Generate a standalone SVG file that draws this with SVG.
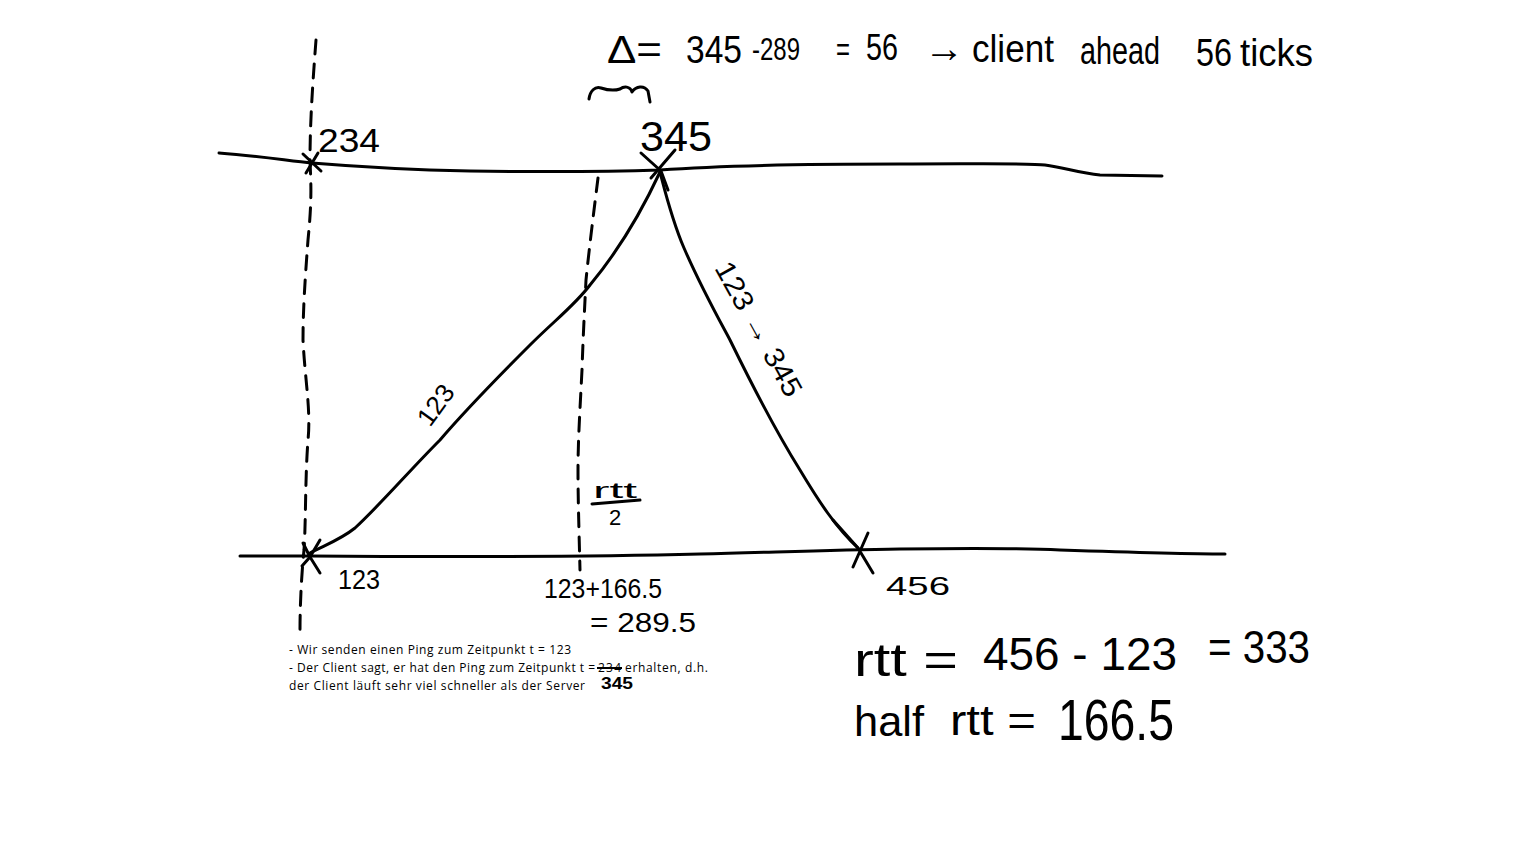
<svg xmlns="http://www.w3.org/2000/svg" width="1536" height="864" viewBox="0 0 1536 864">
<style>
.ln{fill:none;stroke:#000;stroke-width:3;stroke-linecap:round;stroke-linejoin:round}
.dash{stroke-dasharray:14 10}
.hw{font-family:"Liberation Sans","DejaVu Sans",sans-serif;fill:#000}
.ty{font-family:"Open Sans","Liberation Sans",sans-serif;font-size:12px;fill:#000}
</style>
<rect width="1536" height="864" fill="#fff"/>
<g id="server-timeline">
<path class="ln" d="M219,153 C260,156 290,161 312,163 C360,167 420,170 470,171 C540,172 600,172 660,170 C700,167 760,164 900,164 C980,164 1030,163 1045,165 C1065,168 1080,173 1100,175 L1162,176"/>
<text class="hw" x="318" y="152" font-size="34" textLength="62" lengthAdjust="spacingAndGlyphs">234</text>
<text class="hw" x="640" y="151" font-size="42" textLength="72" lengthAdjust="spacingAndGlyphs">345</text>
</g>
<g id="client-timeline">
<path class="ln" d="M240,556 L310,556 C450,557 580,557 700,554 C780,552 830,550 900,549 C980,548 1040,549 1060,550 C1120,552 1180,554 1225,554"/>
<text class="hw" x="338" y="589" font-size="28" textLength="42" lengthAdjust="spacingAndGlyphs">123</text>
<text class="hw" x="886" y="595" font-size="26" textLength="64" lengthAdjust="spacingAndGlyphs">456</text>
</g>
<g id="guides">
<path class="ln dash" d="M316,40 C313,80 310,120 310,160 C311,185 312,200 308,240 C305,280 303,310 303,340 C305,380 311,410 308,440 C305,480 306,520 304,550 C301,580 300,610 300,630"/>
<path class="ln dash" d="M598,178 C594,210 589,250 586,280 C584,320 583,340 582,370 C580,410 578,440 578,470 C578,500 579,530 580,570"/>
</g>
<g id="connectors">
<path class="ln" d="M310,553 C325,545 340,540 355,528 C380,505 410,470 440,440 C470,405 500,375 530,345 C555,320 575,305 590,285 C615,255 640,215 660,172"/>
<path class="ln" d="M660,172 C666,195 672,220 684,248 C700,285 715,312 730,340 C752,385 775,430 800,470 C818,500 836,528 858,548"/>
</g>
<g id="marks">
<path class="ln" d="M303,154 L321,171 M318,153 L306,173"/>
<path class="ln" d="M641,153 L661,171 L668,190 M675,150 L651,178"/>
<path class="ln" d="M303,543 L310,557 L320,573 M320,540 L310,557 L302,566"/>
<path class="ln" d="M833,520 L858,548 L873,573 M868,533 L853,567"/>
</g>
<g id="path-labels">
<text class="hw" transform="translate(430,428) rotate(-54)" font-size="26" textLength="44" lengthAdjust="spacingAndGlyphs">123</text>
<text class="hw" transform="translate(714,268) rotate(61)" font-size="28" textLength="150" lengthAdjust="spacingAndGlyphs">123 → 345</text>
</g>
<g id="half-rtt">
<text class="hw" x="593" y="498" font-size="22" textLength="44" lengthAdjust="spacingAndGlyphs">rtt</text>
<path class="ln" d="M592,504 L640,500"/>
<text class="hw" x="609" y="525" font-size="22">2</text>
<text class="hw" x="544" y="598" font-size="27" textLength="118" lengthAdjust="spacingAndGlyphs">123+166.5</text>
<text class="hw" x="590" y="632" font-size="27" textLength="106" lengthAdjust="spacingAndGlyphs">= 289.5</text>
</g>
<g id="delta">
<text class="hw" x="607" y="63" font-size="38" textLength="55" lengthAdjust="spacingAndGlyphs">Δ=</text>
<text class="hw" x="686" y="63" font-size="38" textLength="56" lengthAdjust="spacingAndGlyphs">345</text>
<text class="hw" x="752" y="60" font-size="32" textLength="48" lengthAdjust="spacingAndGlyphs">-289</text>
<text class="hw" x="836" y="61" font-size="34" textLength="14" lengthAdjust="spacingAndGlyphs">=</text>
<text class="hw" x="866" y="60" font-size="36" textLength="32" lengthAdjust="spacingAndGlyphs">56</text>
<text class="hw" x="924" y="62" font-size="40" textLength="40" lengthAdjust="spacingAndGlyphs">→</text>
<text class="hw" x="972" y="62" font-size="38" textLength="82" lengthAdjust="spacingAndGlyphs">client</text>
<text class="hw" x="1080" y="64" font-size="38" textLength="80" lengthAdjust="spacingAndGlyphs">ahead</text>
<text class="hw" x="1196" y="66" font-size="38" textLength="36" lengthAdjust="spacingAndGlyphs">56</text>
<text class="hw" x="1240" y="66" font-size="38" textLength="73" lengthAdjust="spacingAndGlyphs">ticks</text>
<path class="ln" d="M589,99 C590,91 595,86 601,88 C607,90 614,91 620,89 C624,86 630,86 632,92 C636,86 644,85 648,91 L650,102"/>
</g>
<g id="rtt">
<text class="hw" x="854" y="676" font-size="46" textLength="104" lengthAdjust="spacingAndGlyphs">rtt =</text>
<text class="hw" x="983" y="670" font-size="46" textLength="194" lengthAdjust="spacingAndGlyphs">456 - 123</text>
<text class="hw" x="1208" y="663" font-size="46" textLength="102" lengthAdjust="spacingAndGlyphs">= 333</text>
<text class="hw" x="854" y="736" font-size="42" textLength="70" lengthAdjust="spacingAndGlyphs">half</text>
<text class="hw" x="950" y="735" font-size="42" textLength="86" lengthAdjust="spacingAndGlyphs">rtt =</text>
<text class="hw" x="1058" y="740" font-size="58" textLength="116" lengthAdjust="spacingAndGlyphs">166.5</text>
</g>
<g id="note">
<text class="ty" x="289" y="654" textLength="282">- Wir senden einen Ping zum Zeitpunkt t = 123</text>
<text class="ty" x="289" y="672" textLength="306">- Der Client sagt, er hat den Ping zum Zeitpunkt t = </text>
<text class="ty" x="598" y="672" textLength="23">234</text>
<path d="M597,668 L622,668" stroke="#000" stroke-width="2"/>
<text class="ty" x="625" y="672" textLength="83">erhalten, d.h.</text>
<text class="ty" x="289" y="690" textLength="296">der Client läuft sehr viel schneller als der Server</text>
<text class="hw" x="601" y="689" font-size="16" font-weight="bold" textLength="32" lengthAdjust="spacingAndGlyphs">345</text>
</g>
</svg>
